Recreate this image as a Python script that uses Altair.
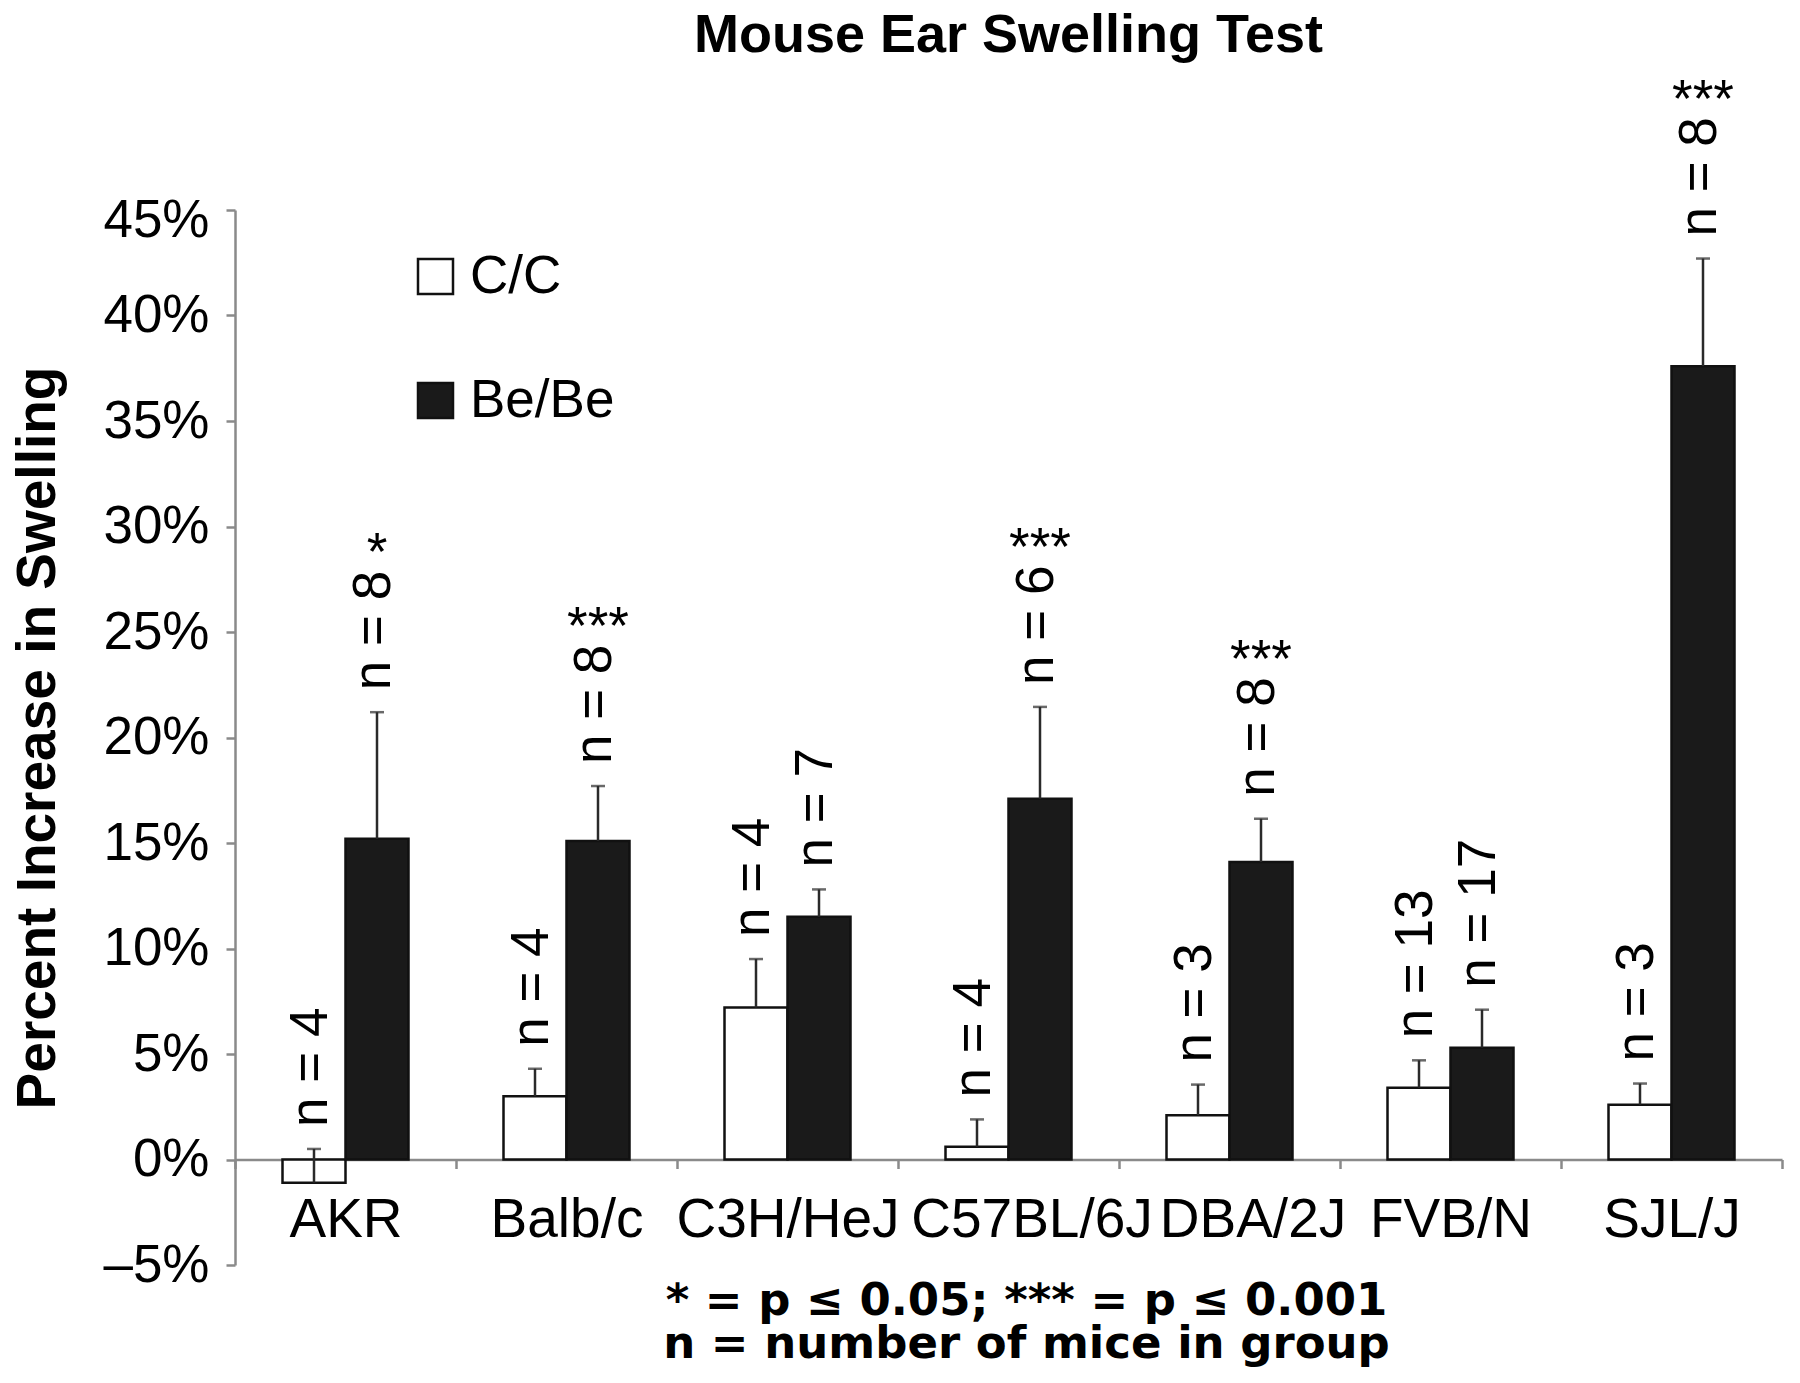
import altair as alt
import pandas as pd

# ---- data ----
strains = ["AKR", "Balb/c", "C3H/HeJ", "C57BL/6J", "DBA/2J", "FVB/N", "SJL/J"]
genotypes = ["C/C", "Be/Be"]

cc_mean = [-1.1, 3.0, 7.2, 0.6, 2.1, 3.4, 2.6]
cc_err = [1.6, 1.3, 2.3, 1.3, 1.45, 1.3, 1.0]
cc_n = [4, 4, 4, 4, 3, 13, 3]
cc_sig = ["", "", "", "", "", "", ""]

be_mean = [15.2, 15.1, 11.5, 17.1, 14.1, 5.3, 37.6]
be_err = [6.0, 2.6, 1.3, 4.35, 2.05, 1.8, 5.1]
be_n = [8, 8, 7, 6, 8, 17, 8]
be_sig = ["*", "***", "", "***", "***", "", "***"]

y_ticks = [-5, 0, 5, 10, 15, 20, 25, 30, 35, 40, 45]
note_lines = ["* = p \u2264 0.05; *** = p \u2264 0.001", "n = number of mice in group"]

rows = []
for i, s in enumerate(strains):
    rows.append(dict(strain=s, genotype="C/C", mean=cc_mean[i], err=cc_err[i],
                     nlab=f"n = {cc_n[i]}", sig=cc_sig[i]))
    rows.append(dict(strain=s, genotype="Be/Be", mean=be_mean[i], err=be_err[i],
                     nlab=f"n = {be_n[i]}", sig=be_sig[i]))
df = pd.DataFrame(rows)
df["top"] = df["mean"] + df["err"]

W, H = 1547, 1055
y_min, y_max = y_ticks[0], y_ticks[-1]
zero_offset = -H * (0 - y_min) / (y_max - y_min)

FONT = "Liberation Sans"
AXIS_GREY = "#8a8a8a"

x_axis = alt.Axis(
    title=note_lines,
    titleFont="DejaVu Sans", titleFontSize=45, titleFontWeight="bold", titleColor="black",
    titleLineHeight=43, titleBaseline="alphabetic", titleAlign="center",
    titleX=791, titleY=155,
    labelFont=FONT, labelFontSize=55, labelColor="black", labelAngle=0, labelPadding=25,
    labelLimit=0, labelOverlap=False, labelBound=False,
    labelOffset={"condition": {"test": "datum.value === 'C57BL/6J' || datum.value === 'DBA/2J'", "value": 23}, "value": 0},
    domainColor=AXIS_GREY, domainWidth=2.5, tickColor=AXIS_GREY, tickWidth=2.5, tickSize=9,
    tickBand="extent", offset=zero_offset,
)
y_axis = alt.Axis(
    title="Percent Increase in Swelling",
    titleFont=FONT, titleFontSize=55, titleFontWeight="bold", titleColor="black",
    titlePadding=36,
    values=y_ticks,
    labelExpr="(datum.value < 0 ? '\u2013' : '') + abs(datum.value) + '%'",
    labelFont=FONT, labelFontSize=53, labelColor="black", labelPadding=17,
    labelOffset={"condition": {"test": "datum.value === 45", "value": 10}, "value": 0},
    domainColor=AXIS_GREY, domainWidth=2.5, tickColor=AXIS_GREY, tickWidth=2.5, tickSize=9,
    grid=False,
)

x_enc = alt.X("strain:N", sort=strains, scale=alt.Scale(paddingInner=0, paddingOuter=0), axis=x_axis)
xo_enc = alt.XOffset("genotype:N", sort=genotypes, scale=alt.Scale(domain=genotypes, paddingInner=0, paddingOuter=0.754))
y_scale = alt.Scale(domain=[y_min, y_max], nice=False, zero=False)

base = alt.Chart(df)

bars = base.mark_bar(stroke="#111111", strokeWidth=2.5).encode(
    x=x_enc,
    xOffset=xo_enc,
    y=alt.Y("mean:Q", scale=y_scale, axis=y_axis),
    y2=alt.datum(0),
    fill=alt.Fill(
        "genotype:N", sort=genotypes,
        scale=alt.Scale(domain=genotypes, range=["#ffffff", "#1a1a1a"]),
        legend=alt.Legend(
            title=None, orient="none", legendX=174, legendY=40, padding=0,
            symbolType="square", symbolSize=1225, symbolStrokeColor="#111111", symbolStrokeWidth=2.5,
            labelFont=FONT, labelFontSize=53, labelColor="black", labelOffset=8,
            rowPadding=70,
        ),
    ),
)

err_rule = base.mark_rule(color="#2a2a2a", strokeWidth=2.5).encode(
    x=x_enc, xOffset=xo_enc,
    y=alt.Y("mean:Q", scale=y_scale, axis=y_axis),
    y2="top:Q",
)

err_cap = base.mark_tick(color="#2a2a2a", thickness=2.5, size=14, orient="horizontal").encode(
    x=x_enc, xOffset=xo_enc,
    y=alt.Y("top:Q", scale=y_scale, axis=y_axis),
)

n_text = base.mark_text(
    angle=270, align="left", baseline="middle", dx=22, dy=-3,
    font=FONT, fontSize=53, color="black",
).encode(
    x=x_enc, xOffset=xo_enc,
    y=alt.Y("top:Q", scale=y_scale, axis=y_axis),
    text="nlab:N",
)

sig_text = base.mark_text(
    align="center", baseline="alphabetic", dy=-142,
    font=FONT, fontSize=53, color="black",
).encode(
    x=x_enc, xOffset=xo_enc,
    y=alt.Y("top:Q", scale=y_scale, axis=y_axis),
    text="sig:N",
)

chart = alt.layer(bars, err_rule, err_cap, n_text, sig_text).properties(
    width=W, height=H,
    title=alt.TitleParams(
        "Mouse Ear Swelling Test", font=FONT, fontSize=54, fontWeight="bold", color="black",
        anchor="middle", frame="group", baseline="alphabetic", offset=29, dy=60,
    ),
    autosize=alt.AutoSizeParams(type="none"),
    padding={"left": 227, "top": 202, "right": 10, "bottom": 110},
    background="white",
).configure_view(stroke=None)

chart.save("out.html", embed_options={"renderer": "svg", "actions": False})
